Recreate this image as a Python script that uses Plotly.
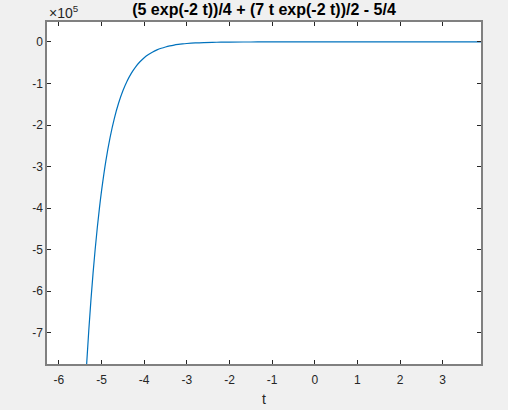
import plotly.graph_objects as go

# values (y in units of 1e5)
t_values = [-5.4, -5.35, -5.3, -5.25, -5.2, -5.15, -5.1, -5.05, -5.0, -4.9, -4.8, -4.7,
            -4.6, -4.5, -4.4, -4.3, -4.2, -4.1, -4.0, -3.9, -3.8, -3.7, -3.6, -3.5,
            -3.4, -3.3, -3.2, -3.1, -3.0, -2.8, -2.6, -2.4, -2.2, -2.0, -1.5, -1.0,
            0.0, 1.0, 2.0, 3.0, 3.9]
y_values = [-8.652, -7.751, -6.943, -6.219, -5.570, -4.988, -4.466, -3.998, -3.579, -2.867,
            -2.296, -1.837, -1.470, -1.175, -0.939, -0.750, -0.598, -0.477, -0.380, -0.303,
            -0.241, -0.191, -0.152, -0.121, -0.0956, -0.0757, -0.0599, -0.0473, -0.0373,
            -0.0231, -0.0142, -0.0087, -0.0053, -0.0031, -0.0008, -0.0002,
            0.0, 0.0, 0.0, 0.0, 0.0]
x_ticks = [-6, -5, -4, -3, -2, -1, 0, 1, 2, 3]
y_ticks = [0, -1, -2, -3, -4, -5, -6, -7]
title_text = "(5 exp(-2 t))/4 + (7 t exp(-2 t))/2 - 5/4"
x_label = "t"
exponent_label = "×10<sup>5</sup>"

FONT = "Liberation Sans, Arial"

fig = go.Figure()
fig.add_trace(go.Scatter(x=t_values, y=y_values, mode="lines",
                         line=dict(color="#0072BD", width=1.2, shape="spline"),
                         showlegend=False, hoverinfo="skip"))

axis_common = dict(showline=True, linecolor="#808080", linewidth=1.5, mirror="ticks",
                   ticks="inside", ticklen=4, tickcolor="#262626", tickwidth=1,
                   showgrid=False, zeroline=False, automargin=False,
                   tickfont=dict(family=FONT, size=12, color="#262626"))

fig.update_layout(
    width=508, height=410,
    margin=dict(l=47, r=27, t=22, b=46, autoexpand=False),
    paper_bgcolor="#f0f0f0", plot_bgcolor="#ffffff",
    title=dict(text="<b>" + title_text + "</b>", x=0.5, xref="paper", y=1, yref="container",
               yanchor="top", pad=dict(t=4),
               font=dict(family=FONT, size=16, color="#000000")),
    xaxis=dict(range=[-6.28, 3.9], tickvals=x_ticks, ticktext=[str(v) for v in x_ticks],
               ticklabelstandoff=4,
               title=dict(text=x_label, standoff=8,
                          font=dict(family=FONT, size=14, color="#262626")),
               **axis_common),
    yaxis=dict(range=[-7.75, 0.48], tickvals=y_ticks, ticktext=[str(v) for v in y_ticks],
               **axis_common),
    annotations=[dict(text=exponent_label, xref="paper", yref="paper", x=0, y=1,
                      xanchor="left", yanchor="bottom", yshift=-1, showarrow=False,
                      font=dict(family=FONT, size=14, color="#262626"))],
)

fig.write_html("out.html", config={"displayModeBar": False},
               post_script="document.body.style.margin='0';document.body.style.background='#f0f0f0';")
